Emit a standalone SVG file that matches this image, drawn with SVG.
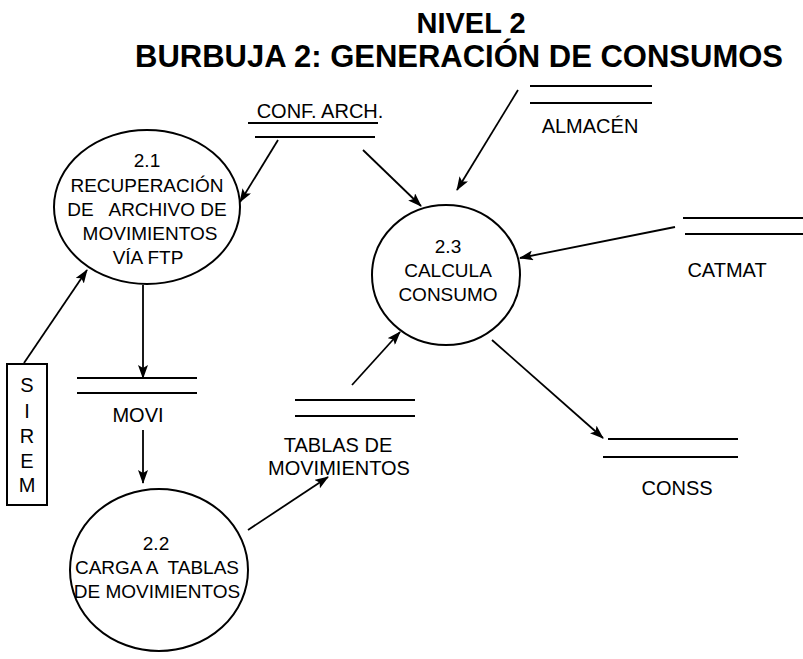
<svg xmlns="http://www.w3.org/2000/svg" width="803" height="659" viewBox="0 0 803 659">
<style>
text{font-family:"Liberation Sans",Arial,sans-serif;fill:#000}
.t{font-weight:bold;text-anchor:middle}
.n{font-size:19px;text-anchor:middle}
.s{font-size:20px;text-anchor:middle}
.b{fill:#fff;stroke:#000;stroke-width:2}
.st{stroke:#000;stroke-width:2.2;fill:none}
.c{stroke:#000;stroke-width:1.8;fill:none;marker-end:url(#ah)}
</style>
<defs>
<marker id="ah" markerWidth="14" markerHeight="10" refX="13" refY="5" orient="auto" markerUnits="userSpaceOnUse">
<path d="M0,0 L14,5 L0,10 L3,5 Z" fill="#000"/>
</marker>
</defs>
<rect width="803" height="659" fill="#fff"/>
<g id="title">
<text class="t" x="471" y="33" font-size="29">NIVEL 2</text>
<text class="t" x="459" y="67" font-size="31" textLength="648" lengthAdjust="spacingAndGlyphs">BURBUJA 2: GENERACIÓN DE CONSUMOS</text>
</g>
<g id="connectors">
<line class="c" x1="278" y1="140" x2="240" y2="202"/>
<line class="c" x1="363" y1="150" x2="421" y2="206"/>
<line class="c" x1="518" y1="90" x2="457" y2="190"/>
<line class="c" x1="675" y1="227" x2="520" y2="258"/>
<line class="c" x1="24" y1="363" x2="87" y2="270"/>
<line class="c" x1="143" y1="285" x2="143" y2="378"/>
<line class="c" x1="143" y1="430" x2="143" y2="483"/>
<line class="c" x1="248" y1="530" x2="328" y2="477"/>
<line class="c" x1="352" y1="385" x2="400" y2="332"/>
<line class="c" x1="492" y1="340" x2="603" y2="438"/>
</g>
<g id="p21">
<ellipse class="b" cx="147" cy="207" rx="93" ry="77"/>
<text class="n" x="147" y="167">2.1</text>
<text class="n" x="147" y="192">RECUPERACIÓN</text>
<text class="n" x="147" y="216" xml:space="preserve">DE   ARCHIVO DE</text>
<text class="n" x="150" y="240">MOVIMIENTOS</text>
<text class="n" x="148" y="264">VÍA FTP</text>
</g>
<g id="p22">
<ellipse class="b" cx="159" cy="570" rx="89" ry="81"/>
<text class="n" x="156" y="550">2.2</text>
<text class="n" x="157" y="574" xml:space="preserve">CARGA A  TABLAS</text>
<text class="n" x="157" y="598">DE MOVIMIENTOS</text>
</g>
<g id="p23">
<ellipse class="b" cx="446" cy="275" rx="74" ry="70"/>
<text class="n" x="448" y="253">2.3</text>
<text class="n" x="448" y="277">CALCULA</text>
<text class="n" x="448" y="301">CONSUMO</text>
</g>
<g id="confarch">
<text class="s" x="320" y="118">CONF. ARCH.</text>
<line class="st" x1="248" y1="123" x2="378" y2="123"/>
<line class="st" x1="255" y1="137" x2="375" y2="137" stroke-width="3"/>
</g>
<g id="almacen">
<line class="st" x1="530" y1="86" x2="652" y2="86"/>
<line class="st" x1="530" y1="103" x2="652" y2="103"/>
<text class="s" x="590" y="133">ALMACÉN</text>
</g>
<g id="catmat">
<line class="st" x1="683" y1="218" x2="803" y2="218"/>
<line class="st" x1="685" y1="234" x2="803" y2="234"/>
<text class="s" x="727" y="277">CATMAT</text>
</g>
<g id="movi">
<line class="st" x1="77" y1="378" x2="197" y2="378"/>
<line class="st" x1="77" y1="393" x2="197" y2="393"/>
<text class="s" x="138" y="422">MOVI</text>
</g>
<g id="tablas">
<line class="st" x1="295" y1="400" x2="415" y2="400"/>
<line class="st" x1="295" y1="416" x2="415" y2="416"/>
<text class="s" x="338" y="452">TABLAS DE</text>
<text class="s" x="339" y="475">MOVIMIENTOS</text>
</g>
<g id="conss">
<line class="st" x1="608" y1="439" x2="738" y2="439"/>
<line class="st" x1="603" y1="457" x2="738" y2="457" stroke-width="3"/>
<text class="s" x="677" y="495">CONSS</text>
</g>
<g id="sirem">
<rect class="b" x="7" y="364" width="40" height="141"/>
<text class="s" x="27" y="392">S</text>
<text class="s" x="27" y="418">I</text>
<text class="s" x="27" y="443">R</text>
<text class="s" x="27" y="468">E</text>
<text class="s" x="27" y="492">M</text>
</g>
</svg>
